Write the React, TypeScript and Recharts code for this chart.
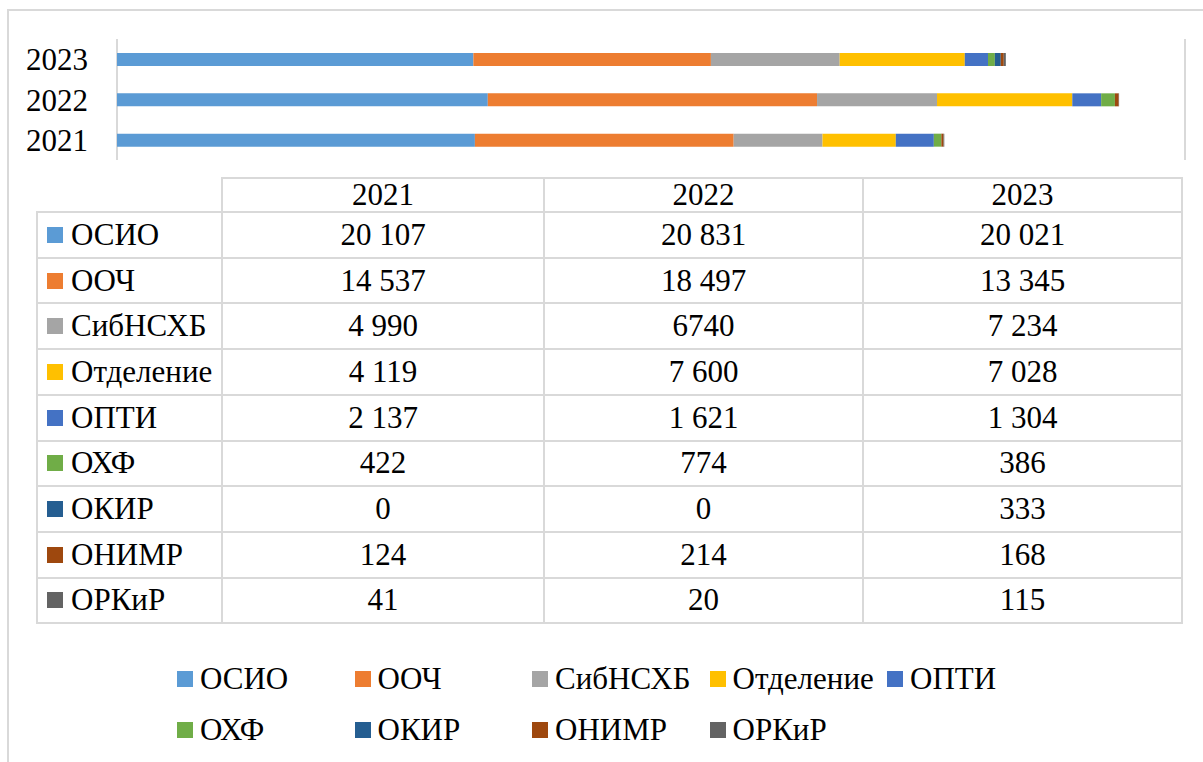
import React from "react";
import { BarChart, Bar, XAxis, YAxis, CartesianGrid } from "recharts";

const years = ["2021", "2022", "2023"];
const names = ["ОСИО", "ООЧ", "СибНСХБ", "Отделение", "ОПТИ", "ОХФ", "ОКИР", "ОНИМР", "ОРКиР"];
const colors = ["#5B9BD5", "#ED7D31", "#A5A5A5", "#FFC000", "#4472C4", "#70AD47", "#255E91", "#9E480E", "#636363"];

const osio = [20107, 20831, 20021];
const ooch = [14537, 18497, 13345];
const sibnshb = [4990, 6740, 7234];
const otdelenie = [4119, 7600, 7028];
const opti = [2137, 1621, 1304];
const ohf = [422, 774, 386];
const okir = [0, 0, 333];
const onimr = [124, 214, 168];
const orkir = [41, 20, 115];
const values = [osio, ooch, sibnshb, otdelenie, opti, ohf, okir, onimr, orkir];

const xTicks = [0, 10000, 20000, 30000, 40000, 50000, 60000];

// в исходной таблице это число записано без пробела
const noSpace = ["СибНСХБ:2022"];

const font = '"Liberation Serif", "DejaVu Serif", "Times New Roman", Times, serif';
const gridColor = "#d9d9d9";

function fmt(name: string, yi: number, v: number) {
  if (noSpace.includes(`${name}:${years[yi]}`)) return String(v);
  return String(v).replace(/\B(?=(\d{3})+(?!\d))/g, " ");
}

const data = years.map((y, i) => {
  const row: any = { year: y };
  names.forEach((n, k) => {
    row[n] = values[k][i];
  });
  return row;
});

// таблица данных под диаграммой
const colX = [37, 222, 544, 863, 1182];
const headTop = 178;
const bodyTop = 212;
const rowH = 45.7;

function HLine({ x1, x2, y }: { x1: number; x2: number; y: number }) {
  return <div style={{ position: "absolute", left: x1 - 1, top: y - 1, width: x2 - x1 + 2, height: 2, background: gridColor }} />;
}
function VLine({ x, y1, y2 }: { x: number; y1: number; y2: number }) {
  return <div style={{ position: "absolute", left: x - 1, top: y1 - 1, width: 2, height: y2 - y1 + 2, background: gridColor }} />;
}

function Cell({ x, y, w, h, text }: { x: number; y: number; w: number; h: number; text: string }) {
  return (
    <div
      style={{
        position: "absolute",
        left: x,
        top: y,
        width: w,
        height: h,
        display: "flex",
        alignItems: "center",
        justifyContent: "center",
        fontSize: 31,
        whiteSpace: "nowrap",
      }}
    >
      {text}
    </div>
  );
}

function DataTable() {
  const bottom = bodyTop + rowH * names.length;
  const lines: React.ReactNode[] = [];
  lines.push(<HLine key="ht" x1={colX[1]} x2={colX[4]} y={headTop} />);
  for (let i = 0; i <= names.length; i++) {
    lines.push(<HLine key={"h" + i} x1={colX[0]} x2={colX[4]} y={bodyTop + i * rowH} />);
  }
  lines.push(<VLine key="v0" x={colX[0]} y1={bodyTop} y2={bottom} />);
  for (let c = 1; c < colX.length; c++) {
    lines.push(<VLine key={"v" + c} x={colX[c]} y1={headTop} y2={bottom} />);
  }
  return (
    <>
      {lines}
      {years.map((y, c) => (
        <Cell key={"hd" + y} x={colX[c + 1]} y={headTop} w={colX[c + 2] - colX[c + 1]} h={bodyTop - headTop} text={y} />
      ))}
      {names.map((n, r) => {
        const top = bodyTop + r * rowH;
        return (
          <React.Fragment key={n}>
            <div style={{ position: "absolute", left: 47, top: top + rowH / 2 - 8, width: 16, height: 16, background: colors[r] }} />
            <div
              style={{
                position: "absolute",
                left: 71,
                top,
                height: rowH,
                display: "flex",
                alignItems: "center",
                fontSize: 31,
                whiteSpace: "nowrap",
              }}
            >
              {n}
            </div>
            {years.map((y, c) => (
              <Cell
                key={y}
                x={colX[c + 1]}
                y={top}
                w={colX[c + 2] - colX[c + 1]}
                h={rowH}
                text={fmt(n, c, values[r][c])}
              />
            ))}
          </React.Fragment>
        );
      })}
    </>
  );
}

function BottomLegend() {
  return (
    <>
      {names.map((n, k) => {
        const col = k % 5;
        const row = Math.floor(k / 5);
        const left = 177 + col * 177.5;
        const cy = 679 + row * 51;
        return (
          <React.Fragment key={n}>
            <div style={{ position: "absolute", left, top: cy - 8, width: 16, height: 16, background: colors[k] }} />
            <div
              style={{
                position: "absolute",
                left: left + 23,
                top: cy - 20,
                height: 40,
                display: "flex",
                alignItems: "center",
                fontSize: 31,
                whiteSpace: "nowrap",
              }}
            >
              {n}
            </div>
          </React.Fragment>
        );
      })}
    </>
  );
}

export default function App() {
  return (
    <div
      style={{
        position: "absolute",
        left: 0,
        top: 0,
        width: 1203,
        height: 762,
        overflow: "hidden",
        background: "#fff",
        fontFamily: font,
        color: "#000",
      }}
    >
      <div
        style={{
          position: "absolute",
          left: 7,
          top: 9,
          width: 1400,
          height: 1000,
          borderLeft: `2px solid ${gridColor}`,
          borderTop: `2px solid ${gridColor}`,
        }}
      />
      <div style={{ position: "absolute", left: 0, top: 0 }}>
        <BarChart
          width={1203}
          height={175}
          data={data}
          layout="vertical"
          margin={{ top: 39, right: 18, bottom: 15, left: 0 }}
        >
          <CartesianGrid horizontal={false} stroke={gridColor} strokeWidth={2} />
          <XAxis
            type="number"
            domain={[0, 60000]}
            ticks={xTicks}
            tick={false}
            axisLine={false}
            tickLine={false}
            height={0}
          />
          <YAxis
            type="category"
            dataKey="year"
            reversed
            width={117}
            interval={0}
            axisLine={false}
            tickLine={false}
            tickSize={0}
            tickMargin={29}
            tick={{ fill: "#000", fontSize: 31, fontFamily: font }}
          />
          {names.map((n, k) => (
            <Bar key={n} dataKey={n} stackId="a" fill={colors[k]} barSize={13} isAnimationActive={false} />
          ))}
        </BarChart>
      </div>
      <DataTable />
      <BottomLegend />
    </div>
  );
}
